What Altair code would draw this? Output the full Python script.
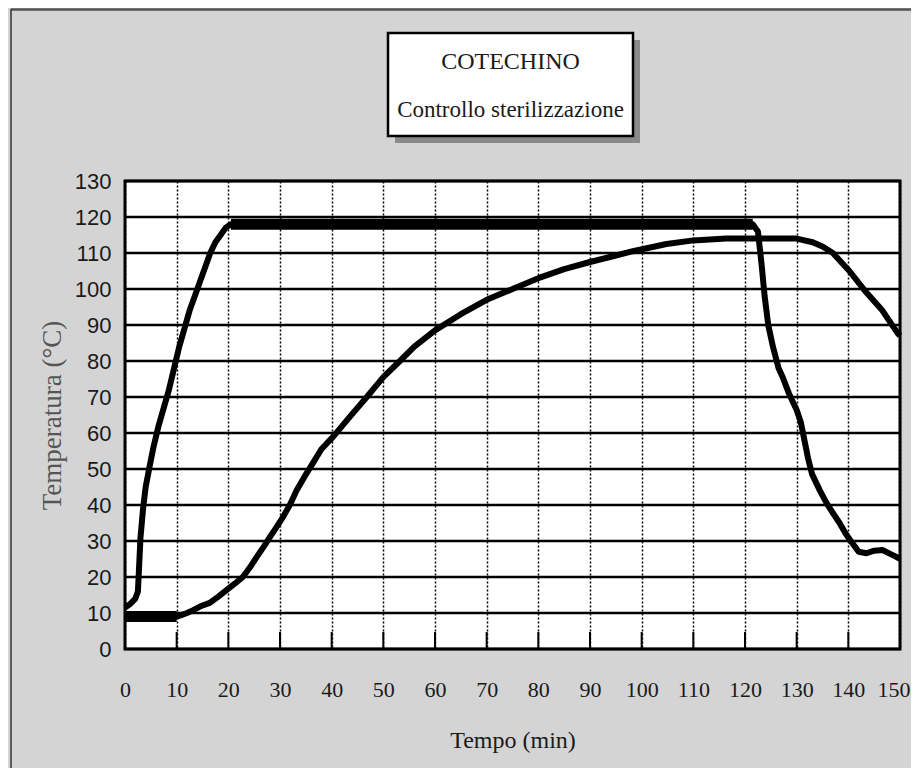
import altair as alt
import pandas as pd

# ---- data ----
# Curve A: autoclave temperature
a_t = [0, 1, 2, 2.5, 2.8, 3.0, 3.5, 4.0, 4.8, 5.5, 6.5, 7.5, 8.5, 9.5, 10.5, 11.5, 12.5,
       13.5, 14.5, 15.5, 16.5, 17.5, 18.5, 19.5, 20.5, 22, 26, 30, 40, 50, 60, 70, 80, 90,
       100, 110, 121.5, 122.5, 123.2, 123.8, 124.5, 125.4, 126.5, 127.3, 128.5, 130, 130.8,
       131.5, 132.2, 133, 134.5, 135.8, 137, 138.3, 139.5, 140.8, 142, 143.5, 145, 146.6,
       148, 149.3, 150]
a_T = [11.5, 12.5, 14, 16, 25, 31, 39, 45, 51, 56, 62, 67, 72, 78, 84, 89, 94,
       98, 102, 106, 110, 113, 115, 117, 118, 118, 118, 118, 118, 118, 118, 118, 118, 118,
       118, 118, 118, 116, 107, 98, 90, 84, 78, 75.5, 71, 66.4, 63,
       58, 53, 48.5, 44, 40.5, 37.8, 35, 32, 29.4, 27, 26.6, 27.3, 27.5,
       26.5, 25.6, 25]

# Curve B: product core temperature
b_t = [0, 2, 4, 6, 8, 10, 11, 12, 13.2, 14.5, 16.4, 18, 19.7, 21.3, 22.8, 24.2, 25.5, 26.8,
       28, 29.3, 30.6, 32, 33.2, 34.8, 36.4, 38, 40.3, 43.5, 46.8, 50, 53.2, 56, 60, 65, 70,
       75, 80, 85, 90, 95, 98.3, 104.8, 110, 116.4, 125, 130, 133.1, 135, 137, 140.2, 143.5,
       146.6, 149.5, 150]
b_T = [9, 9, 9, 9, 9, 9, 9.5, 10, 10.8, 11.8, 12.8, 14.5, 16.4, 18.2, 20, 22.7, 25.6, 28.3,
       31, 33.8, 36.7, 40.3, 44, 48, 51.7, 55.5, 59, 64.5, 70, 75.5, 80, 84, 88.5, 93, 97,
       100, 103, 105.5, 107.5, 109.3, 110.5, 112.5, 113.5, 114, 114, 114, 113, 111.8, 110, 105, 99,
       94, 87.8, 87]

x_ticks = list(range(0, 151, 10))
y_ticks = list(range(0, 131, 10))
inner_ticks = list(range(10, 141, 10))
title_lines = ["COTECHINO", "Controllo sterilizzazione"]

df = pd.concat([
    pd.DataFrame({"series": "A", "t": a_t, "T": a_T}),
    pd.DataFrame({"series": "B", "t": b_t, "T": b_T}),
], ignore_index=True)

W, H = 775, 468
SERIF = "Liberation Serif, Times New Roman, serif"
SANS = "Liberation Sans Narrow, Arial Narrow, Liberation Sans, Arial, sans-serif"

xscale = alt.Scale(domain=[0, 150], nice=False, zero=False)
yscale = alt.Scale(domain=[0, 130], nice=False, zero=False)

xaxis = alt.Axis(
    values=x_ticks, grid=True, gridColor="black", gridWidth=1.5, gridDash=[2, 2],
    ticks=False, domain=False, labelFont=SERIF, labelFontSize=22, labelColor="#1a1a1a",
    labelPadding=40, labelBaseline="middle", labelFlush=False, labelOverlap=False,
    labelAlign=alt.ExprRef(expr="datum.value == 150 ? 'right' : 'center'"),
    labelOffset=alt.ExprRef(expr="datum.value == 150 ? 10 : 0"),
    title="Tempo (min)", titleFont=SERIF, titleFontSize=24, titleFontWeight="normal",
    titleColor="#1a1a1a", titleX=W / 2, titleY=91, titleBaseline="middle", titleAlign="center",
)
yaxis = alt.Axis(
    values=y_ticks, grid=False,
    ticks=False, domain=False, labelFont=SANS, labelFontSize=22, labelColor="#1a1a1a",
    labelPadding=14, labelFlush=False, labelOverlap=False,
    title="Temperatura (°C)", titleFont=SERIF, titleFontSize=27, titleFontWeight="normal",
    titleColor="#555555", titleX=-73, titleY=H / 2, titleAngle=-90,
    titleBaseline="middle", titleAlign="center",
)

base = alt.Chart(df)

hgrid = alt.Chart(pd.DataFrame({"v": y_ticks})).mark_rule(
    color="black", strokeWidth=2.5
).encode(
    y=alt.Y("v:Q", scale=yscale, axis=yaxis, title="Temperatura (°C)"),
)

curves = base.mark_line(color="black", strokeWidth=6, strokeJoin="round").encode(
    x=alt.X("t:Q", scale=xscale, axis=xaxis, title="Tempo (min)"),
    y=alt.Y("T:Q", scale=yscale, axis=yaxis, title="Temperatura (°C)"),
    detail="series:N",
    order="t:Q",
)

plateau = base.transform_filter(
    "(datum.series == 'A' && datum.t >= 20.5 && datum.t <= 121.5) || (datum.series == 'B' && datum.t <= 10)"
).mark_line(color="black", strokeWidth=11, strokeCap="butt").encode(
    x=alt.X("t:Q", scale=xscale, axis=xaxis, title="Tempo (min)"),
    y=alt.Y("T:Q", scale=yscale, axis=yaxis, title="Temperatura (°C)"),
    detail="series:N",
    order="t:Q",
)

ticks = alt.Chart(pd.DataFrame({"t": inner_ticks})).mark_rule(
    color="black", strokeWidth=2
).encode(
    x=alt.X("t:Q", scale=xscale, axis=xaxis, title="Tempo (min)"),
    y=alt.value(H - 17),
    y2=alt.value(H),
)

one = pd.DataFrame({"k": [0]})

frame_top = alt.Chart(one).mark_rule(color="#555555", strokeWidth=2.5).encode(
    x=alt.value(-114), x2=alt.value(800), y=alt.value(-171.5)
)
frame_left = alt.Chart(one).mark_rule(color="#333333", strokeWidth=1.5).encode(
    x=alt.value(-114), y=alt.value(-172), y2=alt.value(590)
)

shadow = alt.Chart(one).mark_rect(color="#8a8a8a", clip=False).encode(
    x=alt.value(270), x2=alt.value(515), y=alt.value(-141), y2=alt.value(-38)
)
box = alt.Chart(one).mark_rect(fill="white", stroke="black", strokeWidth=2.5, clip=False).encode(
    x=alt.value(263), x2=alt.value(508), y=alt.value(-148), y2=alt.value(-45)
)

tdf = pd.DataFrame({"line": title_lines})
title1 = alt.Chart(tdf.iloc[[0]]).mark_text(
    font=SERIF, fontSize=24, color="#1a1a1a", baseline="middle", align="center"
).encode(x=alt.value(385.5), y=alt.value(-119), text="line:N")
title2 = alt.Chart(tdf.iloc[[1]]).mark_text(
    font=SERIF, fontSize=23, color="#1a1a1a", baseline="middle", align="center"
).encode(x=alt.value(385.5), y=alt.value(-71), text="line:N")

chart = alt.layer(
    hgrid, curves, plateau, ticks, frame_top, frame_left, shadow, box, title1, title2
).properties(
    width=W, height=H,
    autosize=alt.AutoSizeParams(type="none"),
    padding={"left": 117, "top": 173, "right": 11, "bottom": 119},
    background="#d4d4d4",
).configure_view(
    fill="white", stroke="black", strokeWidth=3
)

chart.save("out.html", embed_options={"renderer": "svg", "actions": False})
